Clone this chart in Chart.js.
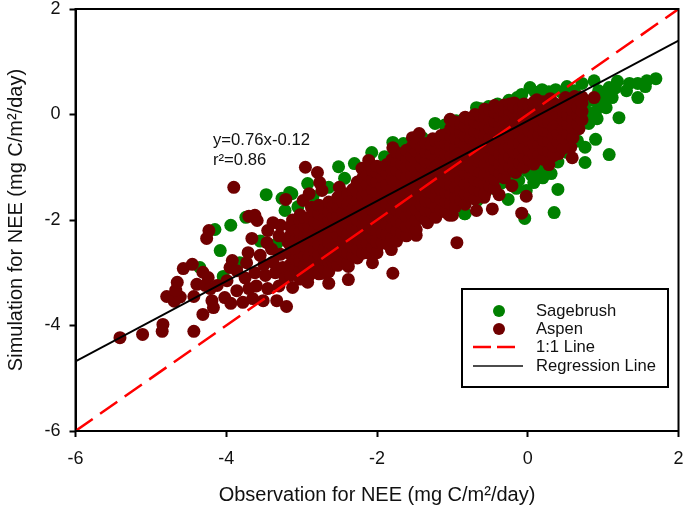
<!DOCTYPE html>
<html lang="en">
<head>
  <meta charset="UTF-8">
  <title>NEE Simulation vs Observation</title>
  <style>
    html, body { margin: 0; padding: 0; background: #fff; }
    #wrap { width: 685px; height: 507px; }
  </style>
  <script src="https://cdn.jsdelivr.net/npm/chart.js"></script>
</head>
<body>
  <div id="wrap"><canvas id="neeChart" width="685" height="507"></canvas></div>
  <script>
    const xTicks = [-6, -4, -2, 0, 2];
    const yTicks = [-6, -4, -2, 0, 2];
    const legendNames = ['Sagebrush', 'Aspen', '1:1 Line', 'Regression Line'];
    const equationLines = ['y=0.76x-0.12', 'r²=0.86'];

    // [x, y]
    const sagebrush = [
      [-3.47,-1.52],[-3.94,-2.1],[-4.15,-2.18],[-3.74,-1.95],[-4.08,-2.58],[-4.35,-2.9],[-4.04,-3.07],
      [-3.26,-1.59],[-3.22,-1.82],[-3.16,-1.48],[-3.33,-2.45],[-3.55,-2.4],[-3.82,-2.81],[-3.13,-1.5],
      [-2.92,-1.31],[-2.51,-0.99],[-2.3,-0.93],[-2.07,-0.72],[-2.43,-1.21],[-2.64,-1.38],[-1.79,-0.53],
      [-1.23,-0.17],[-0.82,-0.08],[-0.68,0.13],[-1.4,-0.44],[-2.16,-1.5],[-2.63,-1.82],[-0.84,-1.88],
      [-0.68,-1.59],[-2,-2.33],[-1.5,-2.14],[-2.58,-2.64],[-2.32,-2.45],[-3.05,-1.75],[-2.85,-1.55],
      [-1.9,-0.8],[-1.65,-0.55],[-1.1,-0.2],[-0.95,-0.12],
      [1.7,0.68],[1.58,0.64],[1.56,0.53],[1.46,0.59],[1.46,0.32],[1.35,0.59],[1.31,0.45],[1.19,0.63],
      [1.21,-0.06],[1.08,-0.76],[0.9,-0.47],[0.76,-0.62],[0.76,-0.91],[0.4,-1.42],[0.35,-1.86],
      [-0.04,-1.97],[-0.26,-1.61],[-0.02,-1.44],[0.31,-1.12],[0.08,-1.29],[0.92,-0.08],[1.04,0.13],
      [1.12,0.32],[0.88,0.64],[0.72,0.59],[0.52,0.53],[0.37,0.47],[0.19,0.47],[0.03,0.51],[-0.14,0.32],
      [-0.25,0.27],[-0.62,0.11],[-0.84,-0.08],[-1.01,-0.21],[-0.83,-1.88],[-0.45,-1.4],[-0.25,-1.16],
      [-0.02,-1.06],[0.15,-1.06],[0.85,0.27],[0.94,0.45],[1.08,0.51],[1.04,0.4],[0.77,0.08],[0.81,-0.17],
      [0.59,-0.49],[-0.67,-1.63],[0.95,0.2],[0.9,0.05],[1,0.3],[0.86,-0.02],[0.7,-0.2],[0.62,0.45],
      [0.45,0.42],[0.28,0.43],[0.1,0.42],[-0.08,0.38],[-0.4,0.2],[-0.52,0.15],[0.2,-1.2],[0.05,-1.15],
      [-0.12,-1.25],[-0.15,-1.4],[0.22,-1.0],[0.4,-0.9],[0.52,-0.72],[0.66,-0.5],[-0.35,-1.3],[1.16,0.5]
    ];

    const aspenScatter = [
      [-5.41,-4.23],[-5.11,-4.17],[-4.84,-3.98],[-4.85,-4.11],[-4.43,-4.11],[-4.31,-3.79],[-4.79,-3.45],
      [-4.69,-3.54],[-4.61,-3.46],[-4.67,-3.33],[-4.65,-3.18],[-4.57,-2.92],[-4.45,-2.84],[-4.43,-3.45],
      [-4.39,-3.22],[-4.31,-2.99],[-4.24,-3.09],[-4.28,-3.24],[-4.21,-3.3],[-4.12,-3.24],[-4.19,-3.53],
      [-4.17,-3.66],[-3.99,-3.15],[-4.02,-3.47],[-3.94,-3.58],[-3.86,-3.34],[-3.78,-3.56],[-3.65,-3.49],
      [-3.51,-3.53],[-3.33,-3.53],[-3.2,-3.64],[-3.92,-2.77],[-3.95,-2.9],[-3.86,-2.96],[-3.73,-2.81],
      [-3.71,-2.62],[-3.66,-2.35],[-3.55,-2.67],[-3.46,-2.43],[-3.45,-2.2],[-3.38,-2.05],[-3.59,-2.01],
      [-3.7,-1.93],[-3.62,-1.91],[-4.23,-2.2],[-4.26,-2.35],[-3.9,-1.38],[-3.21,-1.61],
      [-3.75,-3.1],[-3.6,-3.25],[-3.45,-3.3],[-3.3,-3.25],[-3.62,-3.0],[-3.48,-3.05],[-3.35,-3.0],
      [-3.7,-3.3],[-3.5,-2.85],[-3.38,-2.8],[-3.28,-2.65],[-3.4,-2.55],[-3.3,-2.3],[-3.28,-2.1],
      [-3.25,-2.9],[-3.22,-3.1],[-3.12,-3.28],[-3.18,-2.42],[-3.12,-2.0],
      [-2.95,-1.0],[-2.79,-1.1],[-2.76,-1.29],[-2.73,-1.44],[-2.98,-1.63],[-2.9,-1.5],[-2.87,-1.76],
      [-2.5,-1.38],[-2.27,-1.35],[-2.2,-1.02],[-2.11,-0.87],[-1.79,-0.63],[-1.53,-0.44],[-1.44,-0.36],
      [-1.03,-0.09],[-1.26,-0.46],[-1.79,-3.01],[-2.38,-3.13],[-2.64,-3.2],[-2.92,-3.18],[-2.38,-2.88],
      [-2.72,-3.01],[-2.06,-2.81],[-2,-2.54],[-1.81,-2.56],[-2.19,-2.52],[-1.48,-2.29],[-0.94,-2.43],
      [-1.33,-2.05],[-1.04,-1.91],[-1.7,-2.26],[0.88,0.32],[0.59,-0.82],[0.28,-0.95],[-0.02,-1.55],
      [-0.08,-1.87],[-0.21,-1.35],[-0.16,-1.1],[-0.47,-1.79],[-0.38,-1.52],[-0.58,-1.57],[-0.68,-1.82],
      [-1,-1.91],[0.68,-0.27],[0.41,-0.74],[0.57,-0.62],
      [0.3,0.3],[0.5,0.32],[0.62,0.34],[0.72,0.33],[0.12,0.28]
    ];

    // dense middle of the aspen cloud, read column by column: [x, [y, y, ...]]
    const aspenBand = [
      [-3.15,[-3.05,-2.85,-2.65,-2.48,-2.3,-2.12]],
      [-3.08,[-2.95,-2.75,-2.56,-2.39,-2.2]],
      [-3.02,[-3.12,-2.95,-2.78,-2.58,-2.4,-2.22,-2.02,-1.9]],
      [-2.96,[-3.02,-2.86,-2.68,-2.49,-2.31,-2.12,-1.96]],
      [-2.9,[-3.05,-2.86,-2.68,-2.5,-2.3,-2.12,-1.95]],
      [-2.83,[-2.95,-2.77,-2.58,-2.39,-2.2,-2.02,-1.84]],
      [-2.77,[-3.02,-2.85,-2.66,-2.47,-2.28,-2.08,-1.88,-1.72]],
      [-2.7,[-2.92,-2.75,-2.56,-2.37,-2.18,-1.98,-1.78]],
      [-2.64,[-2.98,-2.78,-2.6,-2.42,-2.22,-2.02,-1.84,-1.66]],
      [-2.58,[-2.82,-2.69,-2.51,-2.32,-2.12,-1.93,-1.75]],
      [-2.52,[-2.86,-2.68,-2.5,-2.3,-2.12,-1.93,-1.75,-1.57]],
      [-2.45,[-2.77,-2.59,-2.4,-2.21,-2.02,-1.84,-1.66]],
      [-2.39,[-2.82,-2.63,-2.44,-2.26,-2.06,-1.88,-1.7,-1.5]],
      [-2.32,[-2.67,-2.5,-2.35,-2.16,-1.97,-1.79,-1.6,-1.42]],
      [-2.26,[-2.72,-2.55,-2.36,-2.18,-2,-1.82,-1.63,-1.47,-1.28]],
      [-2.19,[-2.63,-2.45,-2.27,-2.09,-1.91,-1.72,-1.55,-1.37,-1.2]],
      [-2.13,[-2.62,-2.45,-2.26,-2.08,-1.9,-1.72,-1.52,-1.33,-1.15]],
      [-2.06,[-2.52,-2.34,-2.17,-1.99,-1.81,-1.62,-1.42,-1.24,-1.06]],
      [-2,[-2.62,-2.42,-2.22,-2.04,-1.85,-1.66,-1.47,-1.28,-1.1,-0.98]],
      [-1.93,[-2.43,-2.25,-2.06,-1.88,-1.7,-1.56,-1.37,-1.19,-1.02]],
      [-1.87,[-2.45,-2.27,-2.08,-1.9,-1.7,-1.5,-1.32,-1.12,-0.95]],
      [-1.8,[-2.33,-2.14,-1.96,-1.77,-1.58,-1.41,-1.22,-1.04,-0.85]],
      [-1.74,[-2.4,-2.2,-2.02,-1.82,-1.63,-1.44,-1.25,-1.06,-0.88,-0.72]],
      [-1.67,[-2.25,-2.06,-1.87,-1.68,-1.5,-1.31,-1.13,-0.94,-0.76]],
      [-1.61,[-2.3,-2.12,-1.93,-1.74,-1.55,-1.36,-1.18,-1,-0.82,-0.68]],
      [-1.54,[-2.09,-1.9,-1.71,-1.53,-1.34,-1.15,-0.96,-0.79,-0.62]],
      [-1.48,[-2.18,-2,-1.8,-1.62,-1.43,-1.25,-1.05,-0.88,-0.7,-0.55]],
      [-1.41,[-1.91,-1.72,-1.54,-1.35,-1.17,-0.98,-0.81,-0.63]],
      [-1.35,[-2,-1.82,-1.64,-1.45,-1.26,-1.08,-0.9,-0.72,-0.55]],
      [-1.28,[-1.85,-1.66,-1.47,-1.29,-1.1,-0.92,-0.74,-0.57]],
      [-1.22,[-1.95,-1.75,-1.56,-1.38,-1.2,-1,-0.82,-0.65,-0.5]],
      [-1.15,[-1.8,-1.61,-1.43,-1.25,-1.05,-0.87,-0.7,-0.53,-0.4]],
      [-1.09,[-1.85,-1.66,-1.48,-1.3,-1.1,-0.92,-0.75,-0.56,-0.38]],
      [-1.02,[-1.7,-1.52,-1.34,-1.14,-0.96,-0.78,-0.6,-0.42,-0.26]],
      [-0.96,[-1.75,-1.56,-1.38,-1.18,-1,-0.82,-0.63,-0.45,-0.28,-0.14]],
      [-0.89,[-1.62,-1.44,-1.25,-1.06,-0.88,-0.7,-0.52,-0.34,-0.18]],
      [-0.83,[-1.7,-1.5,-1.32,-1.12,-0.95,-0.76,-0.58,-0.4,-0.22,-0.05]],
      [-0.76,[-1.56,-1.37,-1.18,-1,-0.81,-0.63,-0.45,-0.27,-0.1]],
      [-0.7,[-1.6,-1.42,-1.24,-1.05,-0.86,-0.68,-0.5,-0.32,-0.14,0]],
      [-0.63,[-1.46,-1.28,-1.09,-0.9,-0.72,-0.54,-0.36,-0.18,-0.02]],
      [-0.57,[-1.5,-1.32,-1.14,-0.95,-0.76,-0.58,-0.4,-0.22,-0.04,0.1]],
      [-0.5,[-1.36,-1.18,-0.99,-0.8,-0.62,-0.44,-0.26,-0.08,0.08]],
      [-0.44,[-1.4,-1.22,-1.03,-0.85,-0.66,-0.48,-0.3,-0.12,0.05,0.17]],
      [-0.37,[-1.12,-0.94,-0.75,-0.56,-0.38,-0.2,-0.03,0.12]],
      [-0.31,[-1.2,-1.02,-0.84,-0.65,-0.46,-0.28,-0.1,0.06,0.18]],
      [-0.24,[-0.99,-0.81,-0.62,-0.44,-0.25,-0.07,0.08,0.2]],
      [-0.18,[-1.08,-0.9,-0.72,-0.54,-0.35,-0.17,0,0.14,0.22]],
      [-0.11,[-0.92,-0.74,-0.55,-0.36,-0.18,-0.02,0.12]],
      [-0.05,[-1,-0.82,-0.64,-0.45,-0.27,-0.08,0.08,0.2]],
      [0.02,[-0.86,-0.68,-0.5,-0.32,-0.14,0.03,0.17]],
      [0.08,[-0.94,-0.75,-0.56,-0.38,-0.2,-0.02,0.14,0.23]],
      [0.15,[-0.76,-0.57,-0.39,-0.21,-0.03,0.1,0.22]],
      [0.21,[-0.85,-0.66,-0.48,-0.3,-0.12,0.05,0.19,0.24]],
      [0.28,[-0.7,-0.51,-0.33,-0.15,0.02,0.15]],
      [0.34,[-0.78,-0.6,-0.42,-0.24,-0.06,0.1,0.22]],
      [0.4,[-0.53,-0.36,-0.18,-0.01,0.16]],
      [0.47,[-0.64,-0.45,-0.27,-0.1,0.07,0.22]],
      [0.53,[-0.36,-0.18,-0.01,0.15]],
      [0.6,[-0.44,-0.26,-0.08,0.08,0.24]],
      [0.66,[-0.18,-0.01,0.14]],
      [0.72,[-0.1,0.06,0.22]]
    ];

    const oneToOneX = [-6, 2];
    const oneToOneY = [-6, 2];
    const regressionX = [-6, 2];
    const regressionY = [-4.68, 1.4];

    const toPoint = pair => ({ x: pair[0], y: pair[1] });
    const aspenPoints = aspenScatter.map(toPoint);
    aspenBand.forEach(col => col[1].forEach(y => aspenPoints.push({ x: col[0], y: y })));

    const GREEN = '#008000';
    const MAROON = '#700000';
    const FONT = '"Liberation Sans", Arial, sans-serif';

    // frame, equation text and the boxed legend
    const decorations = {
      id: 'decorations',
      afterDraw(chart) {
        const ctx = chart.ctx;
        const area = chart.chartArea;
        ctx.save();
        ctx.strokeStyle = '#000';
        ctx.lineWidth = 2;
        ctx.strokeRect(area.left, area.top, area.right - area.left, area.bottom - area.top);

        ctx.fillStyle = '#111';
        ctx.textBaseline = 'middle';
        ctx.textAlign = 'left';
        ctx.font = '16.7px ' + FONT;
        ctx.fillText(equationLines[0], 213, 140);
        ctx.fillText(equationLines[1], 213, 160);

        ctx.lineWidth = 2;
        ctx.strokeStyle = '#000';
        ctx.strokeRect(462, 289, 206, 98);

        ctx.fillStyle = GREEN;
        ctx.beginPath(); ctx.arc(499, 311, 6, 0, Math.PI * 2); ctx.fill();
        ctx.fillStyle = MAROON;
        ctx.beginPath(); ctx.arc(499, 329, 6, 0, Math.PI * 2); ctx.fill();

        ctx.strokeStyle = '#ff0000';
        ctx.lineWidth = 2.5;
        ctx.setLineDash([18, 6]);
        ctx.beginPath(); ctx.moveTo(473, 347); ctx.lineTo(516, 347); ctx.stroke();
        ctx.setLineDash([]);
        ctx.strokeStyle = '#111';
        ctx.lineWidth = 1.6;
        ctx.beginPath(); ctx.moveTo(473, 366); ctx.lineTo(523, 366); ctx.stroke();

        ctx.fillStyle = '#111';
        ctx.font = '16.6px ' + FONT;
        [311, 329, 347, 366].forEach((y, i) => ctx.fillText(legendNames[i], 536, y));
        ctx.restore();
      }
    };

    const axisOptions = (ticks, titleText, tickPad, titlePad) => ({
      type: 'linear',
      min: -6,
      max: 2,
      afterBuildTicks: scale => { scale.ticks = ticks.map(v => ({ value: v })); },
      grid: { drawOnChartArea: false, drawTicks: true, tickLength: 6, tickWidth: 2, tickColor: '#000' },
      border: { display: true, color: '#000', width: 2 },
      ticks: { color: '#111', font: { family: FONT, size: 18 }, padding: tickPad, maxRotation: 0, autoSkip: false },
      title: { display: true, text: titleText, color: '#111', font: { family: FONT, size: 20 }, padding: titlePad }
    });

    const xAxis = axisOptions(xTicks, 'Observation for NEE (mg C/m²/day)', 11, { top: 0, bottom: 0 });
    xAxis.afterFit = scale => { scale.height = 76; scale.paddingLeft = 0; scale.paddingRight = 0; };
    const yAxis = axisOptions(yTicks, 'Simulation for NEE (mg C/m²/day)', 9, { top: 4, bottom: 0 });
    yAxis.afterFit = scale => { scale.width = 75.5; scale.paddingTop = 0; scale.paddingBottom = 0; };

    new Chart(document.getElementById('neeChart').getContext('2d'), {
      type: 'scatter',
      data: {
        datasets: [
          { label: legendNames[3], data: regressionX.map((x, i) => ({ x: x, y: regressionY[i] })), showLine: true,
            borderColor: '#000', borderWidth: 1.8, pointRadius: 0, order: 0 },
          { label: legendNames[2], data: oneToOneX.map((x, i) => ({ x: x, y: oneToOneY[i] })), showLine: true,
            borderColor: '#ff0000', borderWidth: 2.5, borderDash: [21, 9], pointRadius: 0, order: 1 },
          { label: legendNames[1], data: aspenPoints, backgroundColor: MAROON, borderWidth: 0, pointRadius: 6.5, order: 2 },
          { label: legendNames[0], data: sagebrush.map(toPoint), backgroundColor: GREEN, borderWidth: 0, pointRadius: 6.5, order: 3 }
        ]
      },
      options: {
        responsive: false,
        animation: false,
        layout: { padding: { top: 9, right: 5, left: 0, bottom: 0 } },
        plugins: { legend: { display: false }, tooltip: { enabled: false } },
        scales: { x: xAxis, y: yAxis }
      },
      plugins: [decorations]
    });
  </script>
</body>
</html>
